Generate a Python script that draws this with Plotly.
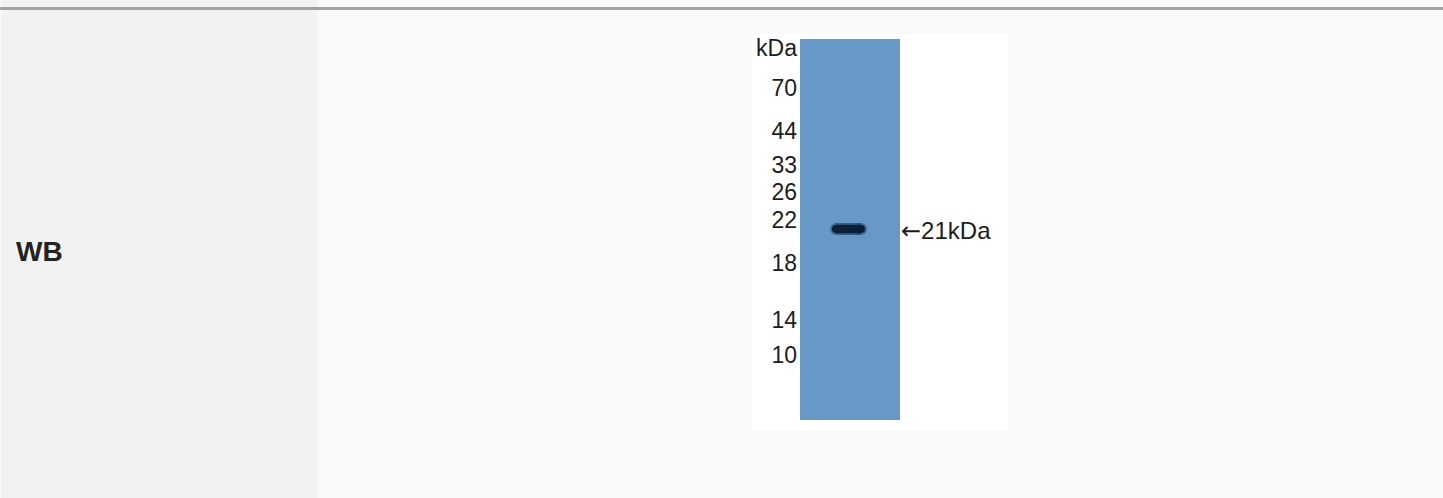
import plotly.graph_objects as go

# Data
row_label = "WB"
marker_labels = ["kDa", "70", "44", "33", "26", "22", "18", "14", "10"]
marker_y = [50, 90, 133, 167, 194, 222, 265, 322, 357]   # migration position (px from top)
band_label = "21kDa"
band_y = 229
band_x = [836, 843, 850, 857, 861]

W, H = 1443, 498
FONT = "Liberation Sans, Arial, sans-serif"

fig = go.Figure()

# Table layout shapes
shapes = [
    dict(type="rect", x0=1, x1=317, y0=0, y1=H, fillcolor="#f2f2f2", line_width=0, layer="below"),
    dict(type="rect", x0=317, x1=W, y0=0, y1=H, fillcolor="#f9f9f9", line_width=0, layer="below"),
    dict(type="rect", x0=0, x1=W, y0=7, y1=10, fillcolor="#a3a3a3", line_width=0, layer="below"),
    # blot image frame (white)
    dict(type="rect", x0=752, x1=1008, y0=34, y1=430, fillcolor="#ffffff", line_width=0, layer="below"),
    # lane
    dict(type="rect", x0=800, x1=900, y0=39, y1=420, fillcolor="#6898c6", line_width=0, layer="below"),
]

# marker labels
fig.add_trace(go.Scatter(
    x=[797] * len(marker_labels), y=marker_y, text=marker_labels,
    mode="text", textposition="middle left",
    textfont=dict(family=FONT, size=23, color="#1c1c1c"),
    hoverinfo="skip", showlegend=False,
))

# band (soft halo + dark core)
fig.add_trace(go.Scatter(
    x=band_x, y=[band_y] * len(band_x), mode="lines+markers",
    line=dict(color="rgba(20,50,90,0.45)", width=12),
    marker=dict(color="rgba(20,50,90,0.45)", size=12, line_width=0),
    hoverinfo="skip", showlegend=False,
))
fig.add_trace(go.Scatter(
    x=band_x, y=[band_y] * len(band_x), mode="lines+markers",
    line=dict(color="#0b2038", width=8),
    marker=dict(color="#0b2038", size=8, line_width=0),
    hoverinfo="skip", showlegend=False,
))

# band label
fig.add_trace(go.Scatter(
    x=[901], y=[band_y + 4],
    text=[f"<span style='font-family:DejaVu Sans'>←</span>{band_label}"],
    mode="text", textposition="middle right",
    textfont=dict(family=FONT, size=24, color="#1c1c1c"),
    hoverinfo="skip", showlegend=False,
))

# row label
fig.add_trace(go.Scatter(
    x=[16], y=[254], text=[f"<b>{row_label}</b>"], mode="text", textposition="middle right",
    textfont=dict(family=FONT, size=28, color="#222222"),
    hoverinfo="skip", showlegend=False,
))

fig.update_layout(
    width=W, height=H,
    margin=dict(l=0, r=0, t=0, b=0),
    paper_bgcolor="#fafafa", plot_bgcolor="#fafafa",
    shapes=shapes,
    xaxis=dict(range=[0, W], visible=False, fixedrange=True),
    yaxis=dict(range=[H, 0], visible=False, fixedrange=True),
)

fig.write_html(
    "out.html",
    config={"displayModeBar": False},
    post_script="document.body.style.margin='0';document.body.style.overflow='hidden';",
)
